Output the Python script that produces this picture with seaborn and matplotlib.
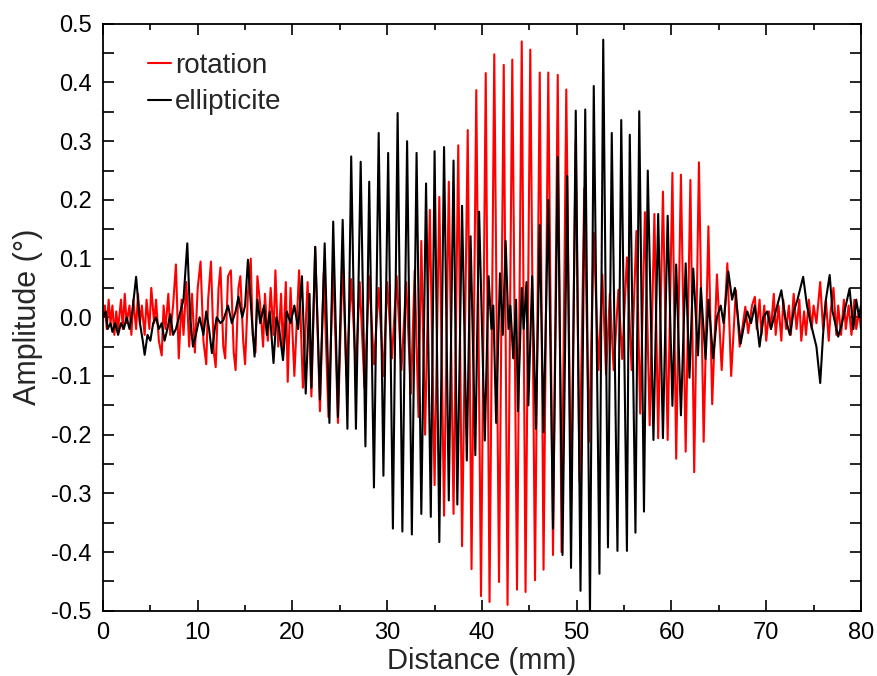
import matplotlib
matplotlib.use('Agg')
import matplotlib.pyplot as plt
import seaborn as sns
import pandas as pd
from matplotlib.ticker import MultipleLocator

# values (peaks/troughs of each trace)
rot_x = [0.0, 0.2, 0.4, 0.6, 0.8, 1.0, 1.2, 1.4, 1.6, 1.9, 2.1, 2.3, 2.5, 2.8, 3.0, 3.2, 3.5, 3.7, 3.9, 4.1,
         4.4, 4.6, 4.9, 5.1, 5.4, 5.6, 5.9, 6.2, 6.4, 6.6, 6.9, 7.1, 7.4, 7.7, 8.0, 8.3, 8.5, 8.8, 9.1, 9.4,
         9.7, 10.0, 10.3, 10.6, 10.9, 11.1, 11.4, 11.7, 11.9, 12.2, 12.4, 12.7, 12.9, 13.2, 13.5, 13.8, 14.0,
         14.3, 14.5, 14.8, 15.0, 15.3, 15.6, 15.8, 16.1, 16.3, 16.6, 16.9, 17.1, 17.4, 17.7, 18.0, 18.2, 18.5,
         18.8, 19.0, 19.3, 19.5, 19.8,
         20.2, 20.7, 21.1, 21.6, 22.0, 22.4, 22.9, 23.3, 23.8, 24.3, 24.8, 25.3, 25.7, 26.2, 26.7, 27.1, 27.6,
         28.1, 28.6, 29.1, 29.6, 30.0, 30.5, 31.0, 31.5, 32.0, 32.5, 32.9, 33.3, 33.6, 34.0, 34.5, 35.0, 35.5,
         36.0, 36.5, 37.0, 37.5, 37.9, 38.5, 38.9, 39.4, 39.9, 40.4, 40.8, 41.3, 41.8, 42.3, 42.7, 43.2, 43.7,
         44.2, 44.6, 45.1, 45.6, 46.1, 46.5, 47.0, 47.5, 48.0, 48.4, 48.9, 49.4, 49.9, 50.3, 50.8, 51.3, 51.8,
         52.3, 52.7, 53.1, 53.5, 53.9, 54.4, 54.8, 55.3, 55.8, 56.3, 56.7, 57.2, 57.7, 58.2, 58.6, 59.1, 59.6,
         60.1, 60.5, 61.0, 61.5, 62.0, 62.4, 62.9, 63.4, 63.9, 64.3, 64.8, 65.3, 65.9, 66.3, 66.8, 67.2, 67.8,
         68.1, 68.5,
         68.8, 69.0, 69.3, 69.5, 69.8, 70.0, 70.3, 70.5, 70.8, 71.0, 71.3, 71.6, 71.8, 72.1, 72.4, 72.6, 72.9,
         73.2, 73.5, 73.7, 74.0, 74.2, 74.5, 74.8, 75.0, 75.3, 75.7, 76.0, 76.3, 76.6, 76.8, 77.1, 77.4, 77.6,
         77.9, 78.2, 78.4, 78.7, 79.0, 79.3, 79.5, 79.8, 80.0]
rot_y = [0.00, 0.02, -0.02, 0.03, -0.01, 0.02, -0.03, 0.01, -0.02, 0.03, -0.02, 0.04, -0.01, 0.02, -0.03,
         0.03, -0.02, 0.04, -0.01, 0.02, -0.03, 0.03, -0.02, 0.05, -0.01, 0.03, -0.04, -0.065, 0.02, -0.02,
         0.04, -0.03, 0.02, 0.09, -0.07, 0.03, -0.03, 0.06, -0.05, 0.04, -0.06, 0.05, 0.095, -0.04, -0.08,
         0.03, 0.095, -0.06, -0.085, 0.05, 0.085, -0.05, -0.07, 0.07, 0.08, -0.06, -0.09, 0.05, 0.07, -0.04,
         -0.08, 0.04, 0.10, -0.03, -0.06, 0.07, 0.02, -0.05, 0.04, -0.04, 0.05, -0.03, 0.08, -0.05, 0.04,
         -0.06, 0.06, -0.11, 0.05,
         -0.10, 0.08, -0.12, 0.06, -0.135, 0.12, -0.16, 0.075, -0.17, 0.09, -0.18, 0.10, -0.10, 0.065, -0.09,
         0.06, -0.12, 0.07, -0.08, 0.05, -0.10, 0.06, -0.07, 0.07, -0.09, 0.06, -0.13, 0.08, -0.17, 0.13,
         -0.20, 0.183, -0.286, 0.205, -0.338, 0.231, -0.335, 0.293, -0.39, 0.319, -0.429, 0.387, -0.475, 0.416,
         -0.485, 0.448, -0.451, 0.43, -0.49, 0.439, -0.464, 0.47, -0.468, 0.456, -0.448, 0.417, -0.43, 0.417,
         -0.405, 0.413, -0.40, 0.388, -0.33, 0.30, -0.28, 0.22, -0.212, 0.144, -0.09, 0.073, -0.097, 0.04,
         -0.09, 0.047, -0.071, 0.102, -0.09, 0.147, -0.164, 0.179, -0.184, 0.176, -0.206, 0.214, -0.209, 0.246,
         -0.241, 0.243, -0.229, 0.234, -0.264, 0.264, -0.212, 0.155, -0.148, 0.073, -0.09, 0.092, -0.10, 0.046,
         -0.05, 0.018, -0.027, 0.02,
         0.035, -0.02, 0.03, -0.03, 0.02, -0.04, 0.01, -0.02, 0.04, -0.03, 0.02, -0.04, 0.03, -0.02, 0.02,
         -0.03, 0.04, -0.02, 0.03, -0.04, 0.01, -0.03, 0.03, -0.02, 0.02, -0.01, 0.06, -0.02, 0.03, -0.04,
         0.01, 0.05, -0.03, 0.02, -0.03, 0.03, -0.02, 0.02, -0.03, 0.03, -0.02, 0.01, -0.02]

ell_x = [0.0, 0.3, 0.5, 0.8, 1.0, 1.3, 1.6, 1.9, 2.2, 2.5, 2.8, 3.1, 3.5, 3.9, 4.2, 4.4, 4.7, 5.0, 5.3, 5.6,
         5.9, 6.2, 6.5, 6.8, 7.1, 7.4, 7.7, 8.1, 8.5, 8.9, 9.2, 9.5, 9.8, 10.2, 10.6, 10.9, 11.2, 11.5, 11.8,
         12.0, 12.4, 12.7, 13.0, 13.2, 13.6, 14.0, 14.3, 14.7, 15.0, 15.3, 15.7, 16.0, 16.3, 16.6, 17.0, 17.3,
         17.6, 18.0, 18.3, 18.6, 19.0, 19.4, 19.8, 20.2, 20.6,
         21.0, 21.4, 21.8, 22.0, 22.4, 22.9, 23.4, 23.9, 24.3, 24.8, 25.3, 25.8, 26.2, 26.7, 27.2, 27.7, 28.1,
         28.6, 29.1, 29.6, 30.1, 30.6, 31.1, 31.6, 32.1, 32.6, 33.1, 33.6, 34.1, 34.6, 35.0, 35.5, 36.0, 36.5,
         37.0, 37.4, 37.9, 38.4, 38.8, 39.3, 39.7, 40.3, 40.7, 41.0, 41.2, 41.5, 41.9, 42.2, 42.5, 42.8, 43.0,
         43.3, 43.6, 43.8, 44.2, 44.4, 44.7, 44.9, 45.3, 45.7, 46.1, 46.5, 47.0, 47.5, 48.0, 48.5, 49.0, 49.4,
         49.9, 50.4, 50.9, 51.4, 51.8, 52.4, 52.8, 53.3, 53.7, 54.3, 54.7, 55.3, 55.6, 56.2, 56.6, 57.1, 57.5,
         58.1, 58.6, 59.1, 59.6, 60.1, 60.5, 61.0, 61.5, 61.9, 62.3, 62.8, 63.1, 63.6, 63.9, 64.4,
         64.8, 65.2, 65.5, 66.0, 66.4, 66.7, 67.3, 67.7, 68.0, 68.4, 68.8, 69.3, 69.7, 70.1, 70.5, 71.0, 71.6,
         72.0, 72.5, 72.9, 73.3, 73.9, 74.3, 74.7, 75.0, 75.3, 75.7, 76.0, 76.3, 76.7, 77.0, 77.6, 78.0, 78.4,
         78.8, 79.2, 79.5, 79.8, 80.0]
ell_y = [0.0, 0.01, -0.02, -0.01, -0.025, -0.01, -0.03, -0.01, -0.02, 0.0, -0.02, 0.01, 0.069, -0.01, -0.04,
         -0.064, -0.03, -0.04, -0.01, 0.0, -0.02, -0.01, -0.04, -0.02, 0.005, -0.03, -0.02, 0.005, 0.03, 0.126,
         0.0, -0.05, -0.03, 0.0, -0.03, 0.01, -0.02, -0.061, -0.02, 0.0, -0.01, -0.005, 0.01, 0.02, -0.01, 0.01,
         0.035, 0.0, 0.02, 0.098, 0.0, -0.067, 0.03, -0.01, 0.02, -0.03, 0.01, -0.078, 0.0, -0.02, -0.073, 0.01,
         -0.01, 0.02, -0.02,
         0.07, -0.13, 0.04, -0.12, 0.12, -0.14, 0.126, -0.18, 0.163, -0.17, 0.166, -0.19, 0.274, -0.19, 0.265,
         -0.22, 0.231, -0.29, 0.314, -0.27, 0.28, -0.36, 0.348, -0.365, 0.30, -0.37, 0.28, -0.335, 0.228, -0.34,
         0.283, -0.383, 0.29, -0.312, 0.267, -0.319, 0.19, -0.244, 0.138, -0.235, 0.18, -0.21, 0.07, -0.02,
         0.02, -0.18, 0.075, -0.03, 0.13, -0.02, 0.02, -0.07, 0.03, -0.16, 0.05, -0.02, 0.06, -0.15, 0.07,
         -0.19, 0.157, -0.196, 0.2, -0.36, 0.273, -0.405, 0.241, -0.427, 0.352, -0.466, 0.354, -0.505, 0.394,
         -0.437, 0.473, -0.392, 0.314, -0.398, 0.336, -0.398, 0.311, -0.367, 0.351, -0.331, 0.25, -0.209, 0.176,
         -0.206, 0.173, -0.151, 0.09, -0.167, 0.092, -0.103, 0.083, -0.065, 0.05, -0.071, 0.03, -0.07,
         0.0, 0.02, -0.01, 0.078, 0.03, 0.05, -0.045, -0.01, 0.01, -0.01, 0.02, -0.05, 0.0, 0.01, -0.02, 0.01,
         0.046, 0.0, -0.03, 0.01, 0.03, 0.069, 0.02, -0.01, -0.03, -0.05, -0.112, -0.03, 0.03, 0.072, 0.01,
         -0.033, -0.01, 0.02, 0.049, -0.02, 0.03, 0.0, 0.02]

series_names = ['rotation', 'ellipticite']
series_colors = {'rotation': '#ff0000', 'ellipticite': '#000000'}

df = pd.concat([
    pd.DataFrame({'Distance': rot_x, 'Amplitude': rot_y, 'signal': series_names[0]}),
    pd.DataFrame({'Distance': ell_x, 'Amplitude': ell_y, 'signal': series_names[1]}),
], ignore_index=True)

sns.set_style('ticks')
plt.rcParams['font.family'] = ['Liberation Sans', 'DejaVu Sans']
plt.rcParams['axes.unicode_minus'] = False

fig = plt.figure(figsize=(8.77, 6.76), dpi=100)
ax = fig.add_axes([0.1174, 0.0965, 0.8643, 0.8683])

sns.lineplot(data=df, x='Distance', y='Amplitude', hue='signal', hue_order=series_names,
             palette=series_colors, estimator=None, sort=False, linewidth=1.5, ax=ax)

ax.set_xlim(0, 80)
ax.set_ylim(-0.5, 0.5)
ax.xaxis.set_major_locator(MultipleLocator(10))
ax.xaxis.set_minor_locator(MultipleLocator(5))
ax.yaxis.set_minor_locator(MultipleLocator(0.05))
ax.set_yticks([round(-0.5 + 0.1 * i, 1) for i in range(11)])
ax.set_yticklabels([f'{-0.5 + 0.1 * i:.1f}' for i in range(11)])

ax.tick_params(which='both', direction='in', top=True, right=True, width=1.2, labelsize=17, colors='black')
ax.tick_params(axis='x', which='major', length=8, pad=8)
ax.tick_params(axis='x', which='minor', length=4)
ax.tick_params(axis='y', which='major', length=8, pad=8)
ax.tick_params(axis='y', which='minor', length=8)
for s in ax.spines.values():
    s.set_linewidth(1.3)
    s.set_color('black')

ax.set_xlabel('Distance (mm)', fontsize=21, labelpad=2)
ax.set_ylabel('Amplitude (°)', fontsize=22, labelpad=6)

leg = ax.legend(loc='upper left', bbox_to_anchor=(0.059, 0.95), frameon=False, fontsize=20,
                borderaxespad=0, borderpad=0, handlelength=0.85, handletextpad=0.12, labelspacing=0.37)
for line in leg.get_lines():
    line.set_linewidth(1.5)

fig.savefig('out.png', dpi=100)
